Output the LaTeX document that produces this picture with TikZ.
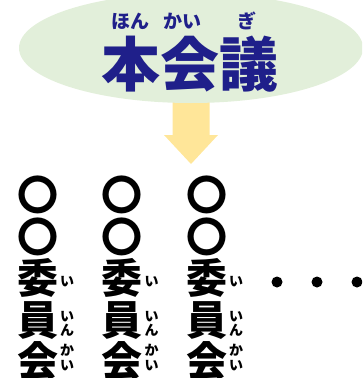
\documentclass[tikz,border=0pt]{standalone}
\usepackage{fontspec}
\usetikzlibrary{shapes.geometric}
\newfontfamily\jpb{Noto Sans CJK JP Black}
\definecolor{ellgreen}{RGB}{226,239,218}
\definecolor{navyjp}{RGB}{31,31,138}
\definecolor{arrowyellow}{RGB}{255,230,153}
\tikzset{
  titletext/.style={inner sep=0pt, text height=51.9pt, text depth=7.1pt, text=navyjp, font=\jpb\fontsize{59}{59}\selectfont},
  titleruby/.style={inner sep=0pt, text height=16.7pt, text depth=2.3pt, text=navyjp, font=\jpb\fontsize{19}{19}\selectfont},
  colchar/.style={inner sep=0pt, text height=36.1pt, text depth=4.9pt, text=black, font=\jpb\fontsize{41}{41}\selectfont},
  colruby/.style={inner sep=0pt, text height=12.3pt, text depth=1.7pt, text=black, font=\jpb\fontsize{14}{14}\selectfont},
  dotmark/.style={circle, fill=black, inner sep=0pt, minimum size=11pt}
}
\begin{document}
\begin{tikzpicture}[x=1pt,y=-1pt]
\useasboundingbox (0,0) rectangle (362,378);
\clip (0,0) rectangle (362,378);
% arrow
\fill[arrowyellow] (172.5,95) -- (209.5,95) -- (209.5,135) -- (218,135) -- (191,164) -- (164,135) -- (172.5,135) -- cycle;
% ellipse
\node[ellipse, fill=ellgreen, minimum width=344pt, minimum height=110pt, inner sep=0pt] (main) at (191,48) {};
\node[titletext] (title) at (190,64.5) {本会議};
\node[titleruby] (rhon) at (130,21) {ほん};
\node[titleruby] (rkai) at (182,21) {かい};
\node[titleruby] (rgi) at (246.5,21) {ぎ};
% columns
\foreach \cx/\n in {37.5/1, 122/2, 206.5/3}{
  \node[colchar] (c\n a) at (\cx,195) {〇};
  \node[colchar] (c\n b) at (\cx,236.5) {〇};
  \node[colchar] (c\n c) at (\cx,278) {委};
  \node[colchar] (c\n d) at (\cx,319.5) {員};
  \node[colchar] (c\n e) at (\cx,361) {会};
  \node[colruby] (r\n a) at (\cx+29.5,281) {い};
  \node[colruby] (r\n b) at (\cx+29.5,316) {い};
  \node[colruby] (r\n c) at (\cx+29.5,330) {ん};
  \node[colruby] (r\n d) at (\cx+29.5,350) {か};
  \node[colruby] (r\n e) at (\cx+29.5,365) {い};
}
% dots
\node[dotmark] (d1) at (277,282) {};
\node[dotmark] (d2) at (317,282) {};
\node[dotmark] (d3) at (357,282) {};
\end{tikzpicture}
\end{document}
